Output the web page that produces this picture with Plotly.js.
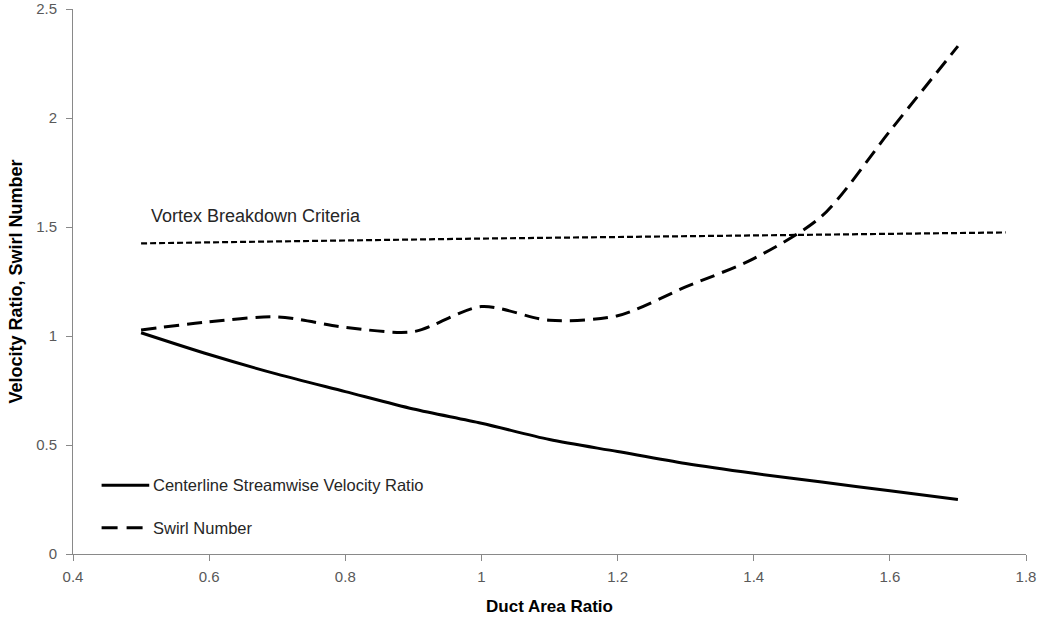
<!DOCTYPE html>
<html>
<head>
<meta charset="utf-8">
<script src="https://cdn.plot.ly/plotly-3.0.1.min.js"></script>
<style>
  html, body { margin: 0; padding: 0; background: #fff; }
  #chart { width: 1042px; height: 619px; }
</style>
</head>
<body>
<div id="chart"></div>
<script>
// Duct area ratio samples
const areaRatio = [0.5, 0.6, 0.7, 0.8, 0.9, 1.0, 1.1, 1.2, 1.3, 1.4, 1.5, 1.6, 1.7];

// Centerline streamwise velocity ratio
const velocityRatio = [1.015, 0.915, 0.825, 0.745, 0.665, 0.600, 0.525, 0.470, 0.415, 0.370, 0.330, 0.290, 0.250];

// Swirl number
const swirlNumber = [1.028, 1.065, 1.088, 1.040, 1.020, 1.135, 1.072, 1.093, 1.225, 1.355, 1.550, 1.940, 2.330];

// Vortex breakdown criterion
const criteriaX = [0.5, 1.0, 1.5, 1.77];
const criteriaY = [1.425, 1.447, 1.465, 1.475];

const criteriaLabel = 'Vortex Breakdown Criteria';
const seriesNames = ['Centerline Streamwise Velocity Ratio', 'Swirl Number'];

const xTicks = [0.4, 0.6, 0.8, 1, 1.2, 1.4, 1.6, 1.8];
const xTickText = ['0.4', '0.6', '0.8', '1', '1.2', '1.4', '1.6', '1.8'];
const yTicks = [0, 0.5, 1, 1.5, 2, 2.5];
const yTickText = ['0', '0.5', '1', '1.5', '2', '2.5'];

const font = 'Liberation Sans, Arial, sans-serif';
const solidLine = { color: '#000', width: 3 };
const swirlLine = { color: '#000', width: 3, dash: '15px,8px' };

const traces = [
  {
    x: areaRatio, y: velocityRatio,
    name: seriesNames[0],
    mode: 'lines', type: 'scatter',
    line: Object.assign({ shape: 'spline', smoothing: 0.8 }, solidLine),
    showlegend: false
  },
  {
    x: areaRatio, y: swirlNumber,
    name: seriesNames[1],
    mode: 'lines', type: 'scatter',
    line: Object.assign({ shape: 'spline', smoothing: 0.8 }, swirlLine),
    showlegend: false
  },
  {
    x: criteriaX, y: criteriaY,
    name: criteriaLabel,
    mode: 'lines', type: 'scatter',
    line: { color: '#000', width: 2.2, dash: '6px,3px' },
    showlegend: false
  }
];

const axisCommon = {
  showgrid: false,
  zeroline: false,
  showline: true,
  linecolor: '#898989',
  linewidth: 1,
  ticks: 'outside',
  ticklen: 6,
  tickcolor: '#898989',
  ticklabeloverflow: 'allow',
  tickfont: { family: font, size: 15, color: '#595959' }
};

// Legend drawn in the lower left corner of the plot area
const legendRows = [0.126, 0.048];
const legendShapes = seriesNames.map((n, i) => ({
  type: 'line', xref: 'paper', yref: 'paper',
  x0: 0.030, x1: 0.080, y0: legendRows[i], y1: legendRows[i],
  line: i === 0 ? solidLine : { color: '#000', width: 3, dash: '16px,9px' }
}));
const legendLabels = seriesNames.map((n, i) => ({
  xref: 'paper', yref: 'paper', x: 0.0815, y: legendRows[i],
  xanchor: 'left', yanchor: 'middle',
  text: n, showarrow: false,
  font: { family: font, size: 16.5, color: '#262626' }
}));

const layout = {
  width: 1042,
  height: 619,
  margin: { l: 73, r: 16, t: 9, b: 65 },
  paper_bgcolor: '#fff',
  plot_bgcolor: '#fff',
  showlegend: false,
  xaxis: Object.assign({}, axisCommon, {
    range: [0.4, 1.8],
    tickvals: xTicks,
    ticktext: xTickText,
    ticklabelstandoff: 3,
    title: { text: 'Duct Area Ratio', font: { family: font, size: 17, color: '#000', weight: 'bold' }, standoff: 16 }
  }),
  yaxis: Object.assign({}, axisCommon, {
    range: [0, 2.5001],
    tickvals: yTicks,
    ticktext: yTickText,
    ticklabelstandoff: 6,
    title: { text: 'Velocity Ratio, Swirl Number', font: { family: font, size: 18, color: '#000', weight: 'bold' }, standoff: 8 }
  }),
  shapes: legendShapes,
  annotations: [
    {
      x: criteriaX[0], y: 1.551, xref: 'x', yref: 'y',
      xanchor: 'left', yanchor: 'middle',
      xshift: 8,
      text: criteriaLabel, showarrow: false,
      font: { family: font, size: 18, color: '#262626' }
    }
  ].concat(legendLabels)
};

Plotly.newPlot('chart', traces, layout, { displayModeBar: false, staticPlot: true });
</script>
</body>
</html>
